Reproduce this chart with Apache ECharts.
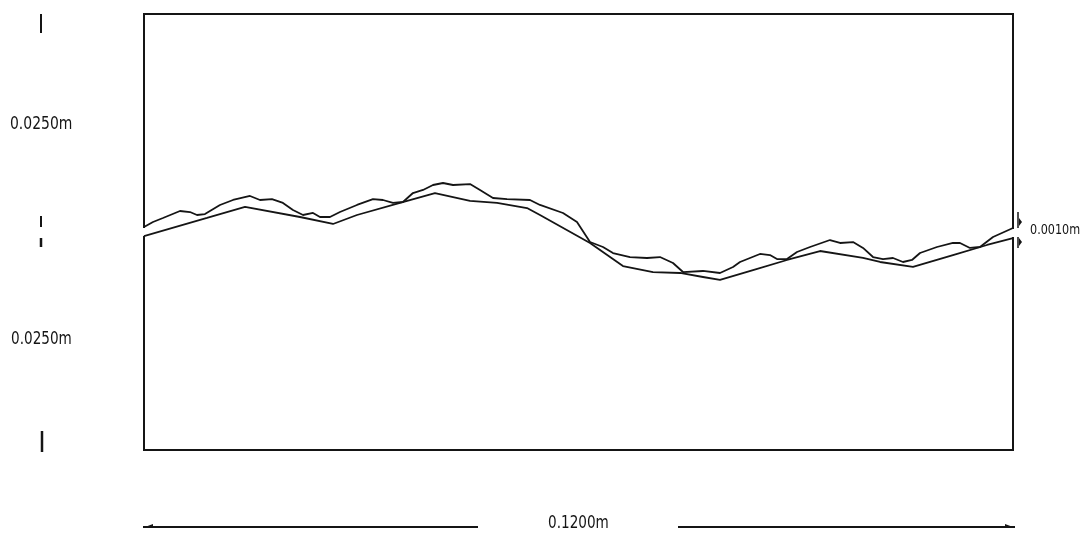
<!DOCTYPE html>
<html>
<head>
<meta charset="utf-8">
<script src="https://cdn.jsdelivr.net/npm/echarts@6/dist/echarts.min.js"></script>
<style>
html,body{margin:0;padding:0;background:#fff;}
#chart{width:1089px;height:535px;}
</style>
</head>
<body>
<div id="chart"></div>
<script>
// Profile position along sample, mm (0 .. 120 mm = 0.1200 m)
const roughX = [0,1.24,2.62,4.97,6.35,7.32,8.42,10.49,12.29,14.64,16.02,17.67,19.19,20.57,21.96,23.34,24.30,25.68,27.06,29.41,31.62,33.00,34.38,35.76,37.14,38.53,39.91,41.29,42.67,45.02,46.40,48.19,50.13,53.30,54.68,57.86,59.79,61.59,63.38,64.76,67.11,69.46,71.25,73.05,74.43,77.19,79.54,81.34,82.30,85.06,86.44,87.41,88.79,90.17,91.97,94.73,96.11,97.91,99.29,100.67,102.05,103.43,104.81,106.05,107.16,109.50,111.71,112.68,114.06,115.44,117.24,120];
// Measured (rough) profile height, mm (plot units)
const roughY = [0.57,1.15,1.61,2.41,2.29,1.95,2.06,3.10,3.67,4.13,3.67,3.78,3.33,2.52,1.95,2.18,1.72,1.72,2.29,3.10,3.78,3.67,3.33,3.44,4.47,4.82,5.39,5.62,5.39,5.50,4.82,3.90,3.78,3.67,3.10,2.18,1.15,-1.15,-1.72,-2.41,-2.87,-2.98,-2.87,-3.56,-4.59,-4.47,-4.70,-4.01,-3.44,-2.52,-2.64,-3.10,-3.10,-2.29,-1.72,-0.92,-1.26,-1.15,-1.83,-2.87,-3.10,-2.98,-3.44,-3.21,-2.41,-1.72,-1.26,-1.26,-1.83,-1.72,-0.57,0.46];
// Smoothed (waviness) profile
const smoothX = [0,8.70,13.95,21.54,26.10,29.41,35.35,40.18,45.02,48.75,52.89,54.68,61.59,66.14,70.29,74.02,77.19,79.54,84.10,88.79,93.35,99.29,101.64,106.19,111.71,116.41,120];
const smoothY = [-0.46,1.61,2.87,1.72,0.92,1.95,3.33,4.47,3.56,3.33,2.75,1.95,-1.26,-3.90,-4.59,-4.70,-5.16,-5.50,-4.36,-3.21,-2.18,-2.98,-3.44,-4.01,-2.64,-1.49,-0.69];
// Scale labels
const leftLabel = '0.0250m';
const rightLabel = '0.0010m';
const bottomLabel = '0.1200m';

const roughData = roughX.map((x,i)=>[x, roughY[i]]);
const smoothData = smoothX.map((x,i)=>[x, smoothY[i]]);

const chart = echarts.init(document.getElementById('chart'));
const ink = '#151515';
const font = "'DejaVu Sans',sans-serif";
const vline = (x,y1,y2,w)=>({type:'line',z:5,shape:{x1:x,y1:y1,x2:x,y2:y2},style:{stroke:ink,lineWidth:w||2}});
const hline = (x1,x2,y)=>({type:'line',z:5,shape:{x1:x1,y1:y,x2:x2,y2:y},style:{stroke:ink,lineWidth:2}});
const tri = (pts)=>({type:'polygon',z:5,shape:{points:pts},style:{fill:ink}});
const label = (t,x,y,size,sx)=>({type:'text',z:5,x:x,y:y,scaleX:sx,style:{text:t,font:size+'px '+font,fill:ink,verticalAlign:'middle',textVerticalAlign:'middle'}});

chart.setOption({
  animation:false,
  backgroundColor:'#fff',
  grid:{left:144,top:14,width:869,height:436,show:true,borderColor:ink,borderWidth:2,backgroundColor:'transparent'},
  xAxis:{type:'value',min:0,max:120,show:false},
  yAxis:{type:'value',min:-25,max:25,show:false},
  series:[
    {type:'line',data:roughData,symbol:'none',lineStyle:{color:ink,width:1.8},z:3},
    {type:'line',data:smoothData,symbol:'none',lineStyle:{color:ink,width:1.8},z:3}
  ],
  graphic:[
    // gaps in frame where profile enters/leaves
    {type:'rect',z:1,shape:{x:140,y:228,width:8,height:8},style:{fill:'#fff'}},
    {type:'rect',z:1,shape:{x:1009,y:229,width:8,height:8},style:{fill:'#fff'}},
    // left vertical scale
    vline(41,14,33,2),
    vline(41,216,227,2),
    vline(41,238,247,2.5),
    vline(42,431,452,2.5),
    label(leftLabel,10,125,17,0.82),
    label(leftLabel,11,340,17,0.8),
    // right scale marker
    vline(1018,212,228,1.5),
    vline(1018,237,248,1.5),
    tri([[1019,218],[1022,222],[1019,226]]),
    tri([[1019,238],[1022,242],[1019,246]]),
    label(rightLabel,1030,230,14,0.8),
    // bottom horizontal scale
    hline(143,478,527),
    hline(678,1015,527),
    tri([[145,527],[153,524],[153,527]]),
    tri([[1013,527],[1005,524],[1005,527]]),
    label(bottomLabel,548,524,17,0.8)
  ]
});
</script>
</body>
</html>
